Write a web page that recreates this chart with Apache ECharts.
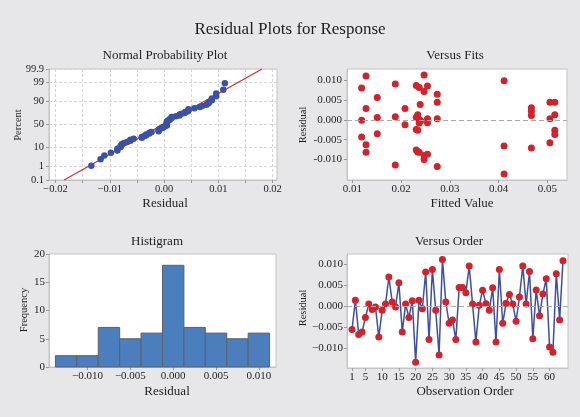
<!DOCTYPE html>
<html>
<head>
<meta charset="utf-8">
<script src="https://cdn.jsdelivr.net/npm/echarts@6/dist/echarts.min.js"></script>
<style>
html,body{margin:0;padding:0;background:#e7e7e9;}
#c{width:580px;height:417px;}
</style>
</head>
<body>
<div id="c"></div>
<script>
// ---- data ----
const orderResiduals = [
  -0.0056, 0.0014, -0.0068, -0.0062, -0.0027, 0.0005, -0.0008, -0.0002, -0.0074, -0.0010,
  0.0005, 0.0070, 0.0010, -0.0002, 0.0056, -0.0062, 0.0005, -0.0027, 0.0013, -0.0134,
  0.0014, -0.0006, 0.0082, -0.0080, 0.0088, -0.0010, -0.0117, 0.0112, 0.0010, -0.0041,
  -0.0033, -0.0080, 0.0045, 0.0045, 0.0032, 0.0096, 0.0005, -0.0086, 0.0002, 0.0038,
  0.0006, -0.0010, 0.0044, -0.0086, 0.0088, -0.0041, 0.0007, 0.0028, 0.0005, -0.0036,
  0.0022, 0.0096, 0.0005, 0.0083, -0.0078, 0.0039, -0.0023, 0.0029, 0.0066, -0.0098,
  -0.0110, 0.0078, -0.0033, 0.0109
];
const fittedValues = [
  0.0119, 0.0119, 0.0119,
  0.0128, 0.0128, 0.0128, 0.0128,
  0.0151, 0.0151, 0.0151,
  0.0188, 0.0188, 0.0188,
  0.0208, 0.0208,
  0.0231, 0.0231, 0.0231, 0.0231,
  0.0234, 0.0234, 0.0234,
  0.0237, 0.0237, 0.0237, 0.0237,
  0.0239, 0.0240,
  0.0247, 0.0247, 0.0247, 0.0247,
  0.0254, 0.0254, 0.0254, 0.0254,
  0.0274, 0.0274, 0.0274, 0.0274,
  0.0411, 0.0411, 0.0411,
  0.0467, 0.0467, 0.0467, 0.0467,
  0.0505, 0.0505, 0.0505,
  0.0515, 0.0515, 0.0515, 0.0515
];
const fitResiduals = [
  0.0081, -0.0001, -0.0043,
  0.0111, 0.0029, -0.0063, -0.0082,
  0.0057, 0.0006, -0.0035,
  0.0091, 0.0008, -0.0114,
  0.0029, -0.0012,
  0.0087, 0.0007, -0.0024, -0.0076,
  0.0013, -0.0026, -0.0081,
  0.0082, 0.0001, -0.0008, -0.0082,
  0.0039, -0.0002,
  0.0114, 0.0072, -0.0090, -0.0100,
  0.0086, 0.0003, -0.0007, -0.0087,
  0.0065, 0.0045, 0.0003, -0.0118,
  0.0099, -0.0066, -0.0137,
  0.0031, 0.0022, 0.0011, -0.0071,
  0.0045, 0.0003, -0.0058,
  0.0045, 0.0013, -0.0026, -0.0037
];
const histBinCenters = [-0.0125, -0.0100, -0.0075, -0.0050, -0.0025, 0.0000, 0.0025, 0.0050, 0.0075, 0.0100];
const histCounts = [2, 2, 7, 5, 6, 18, 7, 6, 5, 6];
const histBinWidth = 0.0025;
const probTickLabels = [0.1, 1, 10, 50, 90, 99, 99.9];
const normFitMean = -0.0002;
const normFitSd = 0.0059;
const normXTicks = [-0.02, -0.01, 0.00, 0.01, 0.02];
const fitXTicks = [0.01, 0.02, 0.03, 0.04, 0.05];
const residTicks = [-0.010, -0.005, 0.000, 0.005, 0.010];
const histXTicks = [-0.010, -0.005, 0.000, 0.005, 0.010];
const orderTicks = [1, 5, 10, 15, 20, 25, 30, 35, 40, 45, 50, 55, 60];

// inverse standard normal CDF (Acklam)
function invNorm(p) {
  const a = [-3.969683028665376e+01, 2.209460984245205e+02, -2.759285104469687e+02, 1.383577518672690e+02, -3.066479806614716e+01, 2.506628277459239e+00];
  const b = [-5.447609879822406e+01, 1.615858368580409e+02, -1.556989798598866e+02, 6.680131188771972e+01, -1.328068155288572e+01];
  const c = [-7.784894002430293e-03, -3.223964580411365e-01, -2.400758277161838e+00, -2.549732539343734e+00, 4.374664141464968e+00, 2.938163982698783e+00];
  const d = [7.784695709041462e-03, 3.224671290700398e-01, 2.445134137142996e+00, 3.754408661907416e+00];
  const pl = 0.02425, ph = 1 - pl;
  let q, r;
  if (p < pl) {
    q = Math.sqrt(-2 * Math.log(p));
    return (((((c[0]*q+c[1])*q+c[2])*q+c[3])*q+c[4])*q+c[5]) / ((((d[0]*q+d[1])*q+d[2])*q+d[3])*q+1);
  } else if (p <= ph) {
    q = p - 0.5; r = q*q;
    return (((((a[0]*r+a[1])*r+a[2])*r+a[3])*r+a[4])*r+a[5])*q / (((((b[0]*r+b[1])*r+b[2])*r+b[3])*r+b[4])*r+1);
  } else {
    q = Math.sqrt(-2 * Math.log(1 - p));
    return -(((((c[0]*q+c[1])*q+c[2])*q+c[3])*q+c[4])*q+c[5]) / ((((d[0]*q+d[1])*q+d[2])*q+d[3])*q+1);
  }
}

// probability-plot positions (median ranks)
const sorted = orderResiduals.slice().sort((x, y) => x - y);
const nObs = sorted.length;
const probData = sorted.map((v, i) => [v, invNorm((i + 1 - 0.3) / (nObs + 0.4))]);
const probTickZ = probTickLabels.map(p => Math.round(invNorm(p / 100) * 10000) / 10000);
const zTop = 3.0902;
const zLim = 3.0905;
const lineData = [[normFitMean - normFitSd * zTop, -zTop], [normFitMean + normFitSd * zTop, zTop]];
const normMinorX = [];
for (let k = -4; k <= 4; k++) normMinorX.push(k * 0.005);

const FONT = '"Liberation Serif", "DejaVu Serif", serif';
const TXT = '#1e1e1e';
const BORDER = '#c4c4c4';
const minus = s => s.replace('-', '\u2212');

function gridBox(left, top, width, height) {
  return { left, top, width, height, show: true, backgroundColor: '#ffffff', borderColor: BORDER, borderWidth: 1 };
}
function axisBase(extra) {
  return Object.assign({
    axisLine: { show: true, onZero: false, lineStyle: { color: BORDER } },
    axisTick: { show: true, length: 3, lineStyle: { color: '#9a9a9a' } },
    splitLine: { show: false },
    axisLabel: { fontFamily: FONT, fontSize: 11, color: TXT }
  }, extra);
}

const chart = echarts.init(document.getElementById('c'), null, { renderer: 'canvas' });

const texts = [
  { t: 'Residual Plots for Response', x: 290, y: 30, s: 17 },
  { t: 'Normal Probability Plot', x: 165, y: 56, s: 13 },
  { t: 'Versus Fits', x: 455, y: 56, s: 13 },
  { t: 'Histigram', x: 157, y: 242, s: 13 },
  { t: 'Versus Order', x: 449, y: 242, s: 13 },
  { t: 'Residual', x: 165, y: 204, s: 13 },
  { t: 'Fitted Value', x: 462, y: 204, s: 13 },
  { t: 'Residual', x: 167, y: 392, s: 13 },
  { t: 'Observation Order', x: 465, y: 392, s: 13 },
  { t: 'Percent', x: 18, y: 125, s: 10.5, r: true },
  { t: 'Residual', x: 303, y: 125, s: 10.5, r: true },
  { t: 'Frequency', x: 24, y: 310, s: 10.5, r: true },
  { t: 'Residual', x: 303, y: 308, s: 10.5, r: true }
];

const option = {
  backgroundColor: '#e7e7e9',
  animation: false,
  graphic: texts.map(o => ({
    type: 'text', x: o.x, y: o.y, rotation: o.r ? Math.PI / 2 : 0,
    style: { text: o.t, fontFamily: FONT, fontSize: o.s, fill: TXT, align: 'center', verticalAlign: 'middle' }
  })),
  grid: [
    gridBox(49, 69, 228, 111),
    gridBox(347, 69, 220, 111),
    gridBox(49, 254, 227, 113),
    gridBox(347, 254, 221, 114)
  ],
  xAxis: [
    axisBase({
      gridIndex: 0, type: 'value', min: -0.0212, max: 0.0208,
      axisTick: { show: true, length: 3, customValues: normMinorX, lineStyle: { color: '#9a9a9a' } },
      axisLabel: { fontFamily: FONT, fontSize: 10.5, color: TXT, margin: 4, customValues: normXTicks,
        formatter: v => minus(v.toFixed(2)) },
      splitLine: { show: true, lineStyle: { color: '#d6d6d6', type: [3, 2] } }
    }),
    axisBase({
      gridIndex: 1, type: 'value', min: 0.0089, max: 0.054,
      axisTick: { show: true, length: 3, customValues: fitXTicks, lineStyle: { color: '#9a9a9a' } },
      axisLabel: { fontFamily: FONT, fontSize: 11, color: TXT, margin: 4, customValues: fitXTicks,
        formatter: v => v.toFixed(2) }
    }),
    axisBase({
      gridIndex: 2, type: 'value', min: -0.0145, max: 0.012,
      axisTick: { show: true, length: 3, customValues: histXTicks, lineStyle: { color: '#9a9a9a' } },
      axisLabel: { fontFamily: FONT, fontSize: 11, color: TXT, margin: 4, customValues: histXTicks,
        formatter: v => minus(v.toFixed(3)) }
    }),
    axisBase({
      gridIndex: 3, type: 'value', min: -0.5, max: 65.5,
      axisTick: { show: true, length: 3, customValues: orderTicks, lineStyle: { color: '#9a9a9a' } },
      axisLabel: { fontFamily: FONT, fontSize: 11, color: TXT, margin: 4, customValues: orderTicks,
        formatter: v => String(v) }
    })
  ],
  yAxis: [
    axisBase({
      gridIndex: 0, type: 'value', min: -zLim, max: zLim,
      axisTick: { show: true, length: 3, customValues: probTickZ, lineStyle: { color: '#9a9a9a' } },
      axisLabel: { fontFamily: FONT, fontSize: 10.5, color: TXT, margin: 5, customValues: probTickZ,
        showMinLabel: true, showMaxLabel: true,
        formatter: v => {
          let best = 0;
          probTickZ.forEach((z, i) => { if (Math.abs(z - v) < Math.abs(probTickZ[best] - v)) best = i; });
          return String(probTickLabels[best]);
        } },
      splitLine: { show: true, lineStyle: { color: '#d6d6d6', type: [3, 2] } }
    }),
    axisBase({
      gridIndex: 1, type: 'value', min: -0.0152, max: 0.0129,
      axisTick: { show: true, length: 3, customValues: residTicks, lineStyle: { color: '#9a9a9a' } },
      axisLabel: { fontFamily: FONT, fontSize: 11, color: TXT, margin: 5, customValues: residTicks,
        formatter: v => v.toFixed(3) }
    }),
    axisBase({
      gridIndex: 2, type: 'value', min: 0, max: 20, interval: 5,
      axisLabel: { fontFamily: FONT, fontSize: 11, color: TXT, margin: 4 }
    }),
    axisBase({
      gridIndex: 3, type: 'value', min: -0.0148, max: 0.0125,
      axisTick: { show: true, length: 3, customValues: residTicks, lineStyle: { color: '#9a9a9a' } },
      axisLabel: { fontFamily: FONT, fontSize: 11, color: TXT, margin: 4, customValues: residTicks,
        formatter: v => minus(v.toFixed(3)) }
    })
  ],
  series: [
    {
      type: 'line', xAxisIndex: 0, yAxisIndex: 0, data: lineData, symbol: 'none',
      lineStyle: { color: '#e0262a', width: 1.2 }, z: 2
    },
    {
      type: 'scatter', xAxisIndex: 0, yAxisIndex: 0, data: probData, symbolSize: 6.5,
      itemStyle: { color: '#3a52a6', opacity: 1 }, z: 3
    },
    {
      type: 'scatter', xAxisIndex: 1, yAxisIndex: 1,
      data: fittedValues.map((f, i) => [f, fitResiduals[i]]), symbolSize: 7,
      itemStyle: { color: '#d4212b', opacity: 1 },
      markLine: {
        silent: true, symbol: 'none', label: { show: false },
        lineStyle: { color: '#a9a9a9', type: [5, 3], width: 1 },
        data: [{ yAxis: 0 }]
      }
    },
    {
      type: 'custom', xAxisIndex: 2, yAxisIndex: 2,
      data: histBinCenters.map((c, i) => [c, histCounts[i]]),
      renderItem: (params, api) => {
        const c = api.value(0), h = api.value(1);
        const p0 = api.coord([c - histBinWidth / 2, h]);
        const p1 = api.coord([c + histBinWidth / 2, 0]);
        return {
          type: 'rect',
          shape: { x: p0[0], y: p0[1], width: p1[0] - p0[0], height: p1[1] - p0[1] },
          style: { fill: '#4a7ebd', stroke: '#5d6169', lineWidth: 1 }
        };
      }
    },
    {
      type: 'line', xAxisIndex: 3, yAxisIndex: 3,
      data: orderResiduals.map((v, i) => [i + 1, v]),
      symbol: 'circle', symbolSize: 7, showAllSymbol: true,
      lineStyle: { color: '#3a4fa8', width: 1.5 },
      itemStyle: { color: '#d4212b' },
      markLine: {
        silent: true, symbol: 'none', label: { show: false },
        lineStyle: { color: '#a9a9a9', type: [5, 3], width: 1 },
        data: [{ yAxis: 0 }]
      }
    }
  ]
};
chart.setOption(option);
</script>
</body>
</html>
